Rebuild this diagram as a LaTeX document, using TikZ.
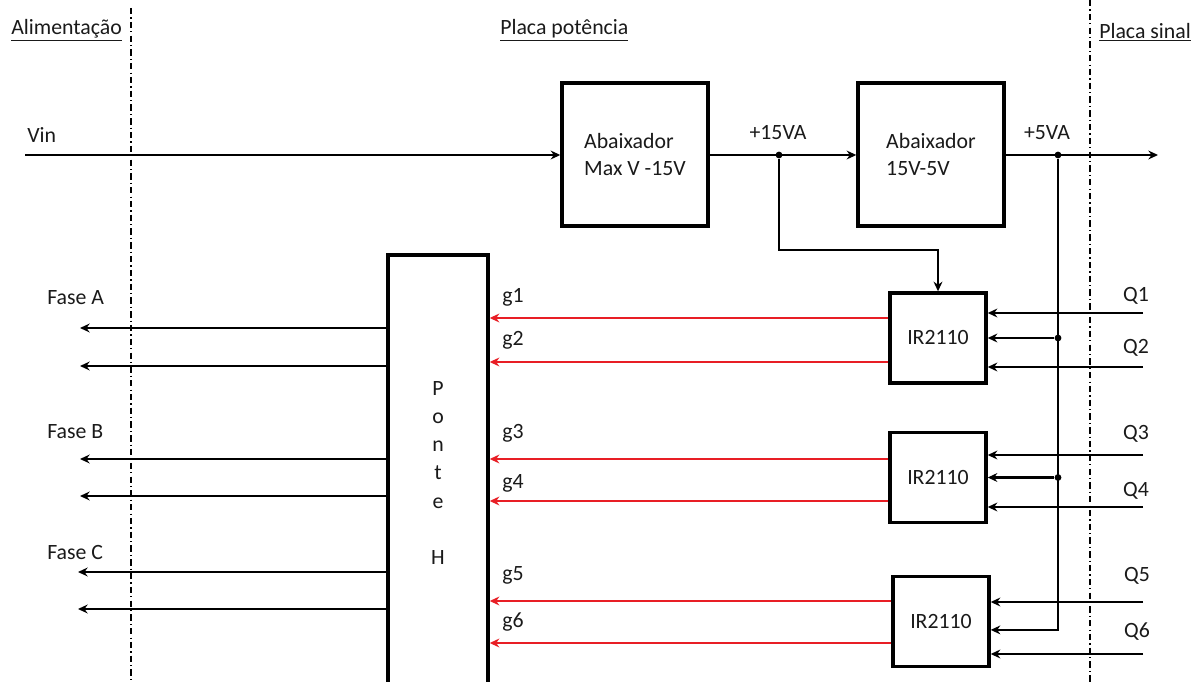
\documentclass[tikz,border=0pt]{standalone}
\usepackage{fontspec}
\setmainfont{Carlito}
\usepackage{tikz}
\usetikzlibrary{
  arrows.meta,
  positioning,
  calc
}
\definecolor{pbWire}{HTML}{000000}
\definecolor{pbGate}{HTML}{E81E25}
\definecolor{pbText}{HTML}{1A1A1A}
\tikzset{
  pbbox/.style={
    draw, line width=2.4pt, fill=white, font=\fontsize{15.5}{19}\selectfont,
    text=pbText, align=left
  },
  conv/.style={pbbox, minimum width=3.65cm, minimum height=3.575cm},
  driver/.style={pbbox, minimum width=2.4cm, minimum height=2.25cm, align=center},
  bridge/.style={pbbox, minimum width=2.5cm, minimum height=10.9cm, align=center,
    font=\fontsize{15.5}{20}\selectfont},
  wire/.style={-{Stealth[length=2.4mm, width=2.2mm]}, line width=1.6pt, pbWire},
  gate/.style={-{Stealth[length=2.4mm, width=2.2mm]}, line width=1.6pt, pbGate},
  lbl/.style={font=\fontsize{15.5}{19}\selectfont, text=pbText, inner sep=0pt},
  title/.style={lbl, anchor=west},
  border/.style={line width=1pt, dash pattern=on 4.5pt off 2.2pt on 0.9pt off 2.2pt},
  dot/.style={circle, fill=black, inner sep=0pt, minimum size=1.7mm}
}

\begin{document}
\begin{tikzpicture}[x=0.025cm, y=-0.025cm]
  \useasboundingbox (0,0) rectangle (1203,682);
  \clip (0,0) rectangle (1203,682);

  % zones
  \draw[border] (131,8) -- (131,690);
  \draw[border] (1090,0) -- (1090,690);
  \node[title] (tAlim) at (11,30) {\underline{Alimentação}};
  \node[title] (tPot) at (500,30) {\underline{Placa potência}};
  \node[title] (tSin) at (1099,32) {\underline{Placa sinal}};

  % power chain
  \node[conv] (abx1) at (635,154.5) {Abaixador\\Max V -15V};
  \node[conv] (abx2) at (931,154.5) {Abaixador\\15V-5V};
  \node[driver] (ir1) at (938,338) {IR2110};
  \node[driver] (ir2) at (938,477.5) {IR2110};
  \node[driver] (ir3) at (941,621.5) {IR2110};
  \node[bridge] (ponte) at (438,473) {P\\o\\n\\t\\e\\[20pt]H};

  \coordinate (vin) at (25,155);
  \coordinate (out5) at (1158,155);
  \node[lbl, anchor=west] (lVin) at (27,135) {Vin};
  \draw[wire] (vin) -- (abx1.west |- vin);
  \draw[wire] (abx1.east |- vin) -- (abx2.west |- vin);
  \draw[wire] (abx2.east |- vin) -- (out5);
  \node[dot] (j15) at (779,155) {};
  \node[dot] (j5) at (1058,155) {};
  \node[lbl] (l15) at (778,133) {+15VA};
  \node[lbl] (l5) at (1047,133) {+5VA};

  % supply to drivers
  \draw[wire] (j15) -- ++(0,95) -| (ir1.north);
  \draw[wire] (j5) |- ([yshift=-2.1mm]ir3.east);
  \node[dot] (b1) at (j5 |- ir1.east) {};
  \node[dot] (b2) at (j5 |- ir2.east) {};
  \draw[wire] (b1) -- (ir1.east);
  \draw[wire] (b2) -- (ir2.east);

  % signal inputs
  \coordinate (q1) at (1143,313);
  \coordinate (q2) at (1143,367);
  \coordinate (q3) at (1143,455);
  \coordinate (q4) at (1143,507);
  \coordinate (q5) at (1143,602);
  \coordinate (q6) at (1143,654);
  \draw[wire] (q1) -- (ir1.east |- q1);
  \draw[wire] (q2) -- (ir1.east |- q2);
  \draw[wire] (q3) -- (ir2.east |- q3);
  \draw[wire] (q4) -- (ir2.east |- q4);
  \draw[wire] (q5) -- (ir3.east |- q5);
  \draw[wire] (q6) -- (ir3.east |- q6);
  \node[lbl] at (1136,296) {Q1};
  \node[lbl] at (1136,348) {Q2};
  \node[lbl] at (1136,434) {Q3};
  \node[lbl] at (1136,491) {Q4};
  \node[lbl] at (1137,576) {Q5};
  \node[lbl] at (1137,632) {Q6};

  % gate signals
  \draw[gate] (ir1.west |- 0,318) -- (ponte.east |- 0,318);
  \draw[gate] (ir1.west |- 0,362) -- (ponte.east |- 0,362);
  \draw[gate] (ir2.west |- 0,459) -- (ponte.east |- 0,459);
  \draw[gate] (ir2.west |- 0,501) -- (ponte.east |- 0,501);
  \draw[gate] (ir3.west |- 0,601) -- (ponte.east |- 0,601);
  \draw[gate] (ir3.west |- 0,643) -- (ponte.east |- 0,643);
  \node[lbl, anchor=west] at (502,297) {g1};
  \node[lbl, anchor=west] at (502,340) {g2};
  \node[lbl, anchor=west] at (502,433) {g3};
  \node[lbl, anchor=west] at (502,483) {g4};
  \node[lbl, anchor=west] at (502,575) {g5};
  \node[lbl, anchor=west] at (502,622) {g6};

  % phase outputs
  \coordinate (fa1) at (80,328);
  \coordinate (fa2) at (80,366);
  \coordinate (fb1) at (80,459);
  \coordinate (fb2) at (80,496);
  \coordinate (fc1) at (78,572);
  \coordinate (fc2) at (78,609);
  \draw[wire] (ponte.west |- fa1) -- (fa1);
  \draw[wire] (ponte.west |- fa2) -- (fa2);
  \draw[wire] (ponte.west |- fb1) -- (fb1);
  \draw[wire] (ponte.west |- fb2) -- (fb2);
  \draw[wire] (ponte.west |- fc1) -- (fc1);
  \draw[wire] (ponte.west |- fc2) -- (fc2);
  \node[lbl, anchor=west] at (47,298) {Fase A};
  \node[lbl, anchor=west] at (47,432) {Fase B};
  \node[lbl, anchor=west] at (47,553) {Fase C};
\end{tikzpicture}
\end{document}
